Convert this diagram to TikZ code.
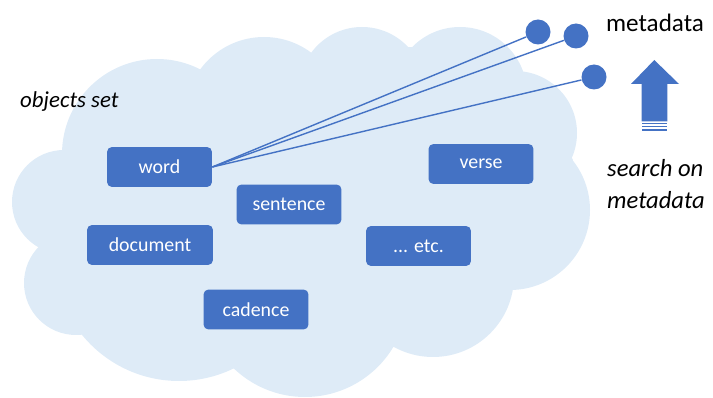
\documentclass[tikz,border=0pt]{standalone}
\usepackage{fontspec}
\setmainfont{Carlito}
\usepackage{xcolor}
\usetikzlibrary{calc, positioning}
\definecolor{objblue}{HTML}{4472C4}
\definecolor{cloudblue}{HTML}{DEEBF7}
\tikzset{
  % link line style
  link/.style={
    draw=objblue
    , line width = 0.8pt
  },
}
\tikzset{
  %object box style
  objbox/.style={
    fill=objblue
    , text=white
    , anchor=center
    , text centered
    , rounded corners=0.1cm
    , minimum width=2.1cm
    , minimum height=0.8cm
    , font=\fontsize{11.3}{13}\selectfont
    %, draw=white
  },
  %metadata dot style
  metadot/.style={
    circle
    , fill=objblue
    , minimum size=0.5cm
    , inner sep=0pt
  },
}

\begin{document}
\begin{tikzpicture}[x=0.02cm, y=-0.02cm]
      \useasboundingbox (0,0) rectangle (713,398);

      % cloud: bumps and body
      \foreach \cx/\cy/\cr in {157/154/95, 264/116/79, 362/90/63, 460/94/67,
          515/133/62, 510/210/80, 433/276/81, 305/294/103, 179/256/125,
          76/283/52, 64/202/52}
        \fill[cloudblue] (\cx,\cy) circle[radius=\cr*0.02cm];
      \fill[cloudblue] (63,150) -- (200,70) -- (312,53) -- (412,47) -- (523,72)
          -- (573,160) -- (513,288) -- (393,347) -- (232,367) -- (82,335)
          -- (40,248) -- cycle;

      \node[anchor=west, font=\fontsize{13}{15}\selectfont\itshape] (objset) at (14,102) {objects set};

      \node[objbox] (word) at (159.5,167) {word};
      \node[objbox] (sentence) at (289,204.5) {sentence};
      \node[objbox] (verse) at (481,164) {verse};
      \node[objbox, minimum width=2.52cm] (document) at (150,245) {document};
      \node[objbox] (etc) at (418.5,246) {... etc.};
      \node[objbox] (cadence) at (256,309.5) {cadence};

      \node[metadot] (meta1) at (538,32) {};
      \node[metadot] (meta2) at (576,36) {};
      \node[metadot] (meta3) at (594,77) {};
      \node[font=\fontsize{14.3}{16}\selectfont] (metadata) at (655,23) {metadata};

      \draw[link] (word.east) -- (meta1);
      \draw[link] (word.east) -- (meta2);
      \draw[link] (word.east) -- (meta3);

      % search arrow
      \fill[objblue] (641.7,121.5) -- (641.7,84) -- (631,84) -- (654.3,60)
          -- (679,84) -- (667.3,84) -- (667.3,121.5) -- cycle;
      \foreach \sy in {123.6, 126.8, 130}
        \fill[objblue] (641.7,\sy-0.7) rectangle (667.3,\sy+0.7);

      \node[anchor=west, align=left, font=\fontsize{14}{18}\selectfont\itshape] (search) at (601,184) {search on\\metadata};
    \end{tikzpicture}
\end{document}
